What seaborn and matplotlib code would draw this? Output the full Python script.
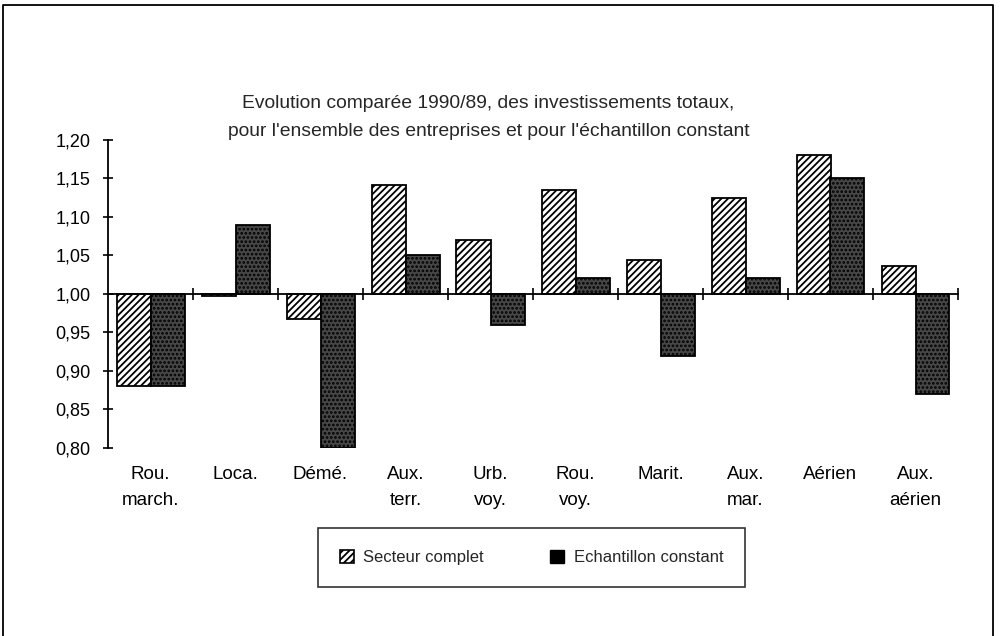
import pandas as pd
import matplotlib.pyplot as plt
import seaborn as sns
from matplotlib.patches import Patch
from matplotlib.lines import Line2D
from matplotlib.ticker import FixedLocator, FuncFormatter

# values (index 1989 = 1,00)
categories = ['Rou.\nmarch.', 'Loca.', 'Démé.', 'Aux.\nterr.', 'Urb.\nvoy.',
              'Rou.\nvoy.', 'Marit.', 'Aux.\nmar.', 'Aérien', 'Aux.\naérien']
secteur_complet = [0.88, 0.998, 0.968, 1.141, 1.07, 1.135, 1.044, 1.125, 1.18, 1.036]
echantillon_constant = [0.88, 1.09, 0.80, 1.05, 0.96, 1.021, 0.92, 1.021, 1.15, 0.87]
series = ['Secteur complet', 'Echantillon constant']
base = 1.0
y_ticks = [0.80, 0.85, 0.90, 0.95, 1.00, 1.05, 1.10, 1.15, 1.20]

rows = []
for cat, a, b in zip(categories, secteur_complet, echantillon_constant):
    rows.append({'Categorie': cat, 'Serie': series[0], 'Ecart': a - base})
    rows.append({'Categorie': cat, 'Serie': series[1], 'Ecart': b - base})
df = pd.DataFrame(rows)

sns.set_style('white')
plt.rcParams['font.family'] = ['Liberation Sans', 'DejaVu Sans']
plt.rcParams['hatch.linewidth'] = 1.3

fig = plt.figure(figsize=(10, 6.36), dpi=100)
ax = fig.add_axes([0.108, 0.2956, 0.85, 0.4843])

sns.barplot(data=df, x='Categorie', y='Ecart', hue='Serie', hue_order=series,
            order=categories, width=0.8, legend=False, ax=ax)

for bar in ax.containers[0]:
    bar.set_facecolor('white')
    bar.set_edgecolor('black')
    bar.set_hatch('/////')
    bar.set_linewidth(1.3)
for bar in ax.containers[1]:
    bar.set_facecolor('#474747')
    bar.set_edgecolor('black')
    bar.set_hatch('....')
    bar.set_linewidth(1.3)

ax.set_xlim(-0.5, len(categories) - 0.5)
ax.set_ylim(y_ticks[0] - base, y_ticks[-1] - base)
ax.set_xlabel('')
ax.set_ylabel('')

# y axis with comma decimals
ax.yaxis.set_major_locator(FixedLocator([t - base for t in y_ticks]))
ax.yaxis.set_major_formatter(FuncFormatter(lambda y, _: f'{y + base:.2f}'.replace('.', ',')))
ax.tick_params(axis='y', direction='inout', length=7, width=1.2, pad=9,
               labelsize=13, colors='black', left=True)

# zero line with category separators
ax.spines['top'].set_position(('data', 0))
ax.spines['bottom'].set_visible(False)
ax.spines['right'].set_visible(False)
for side in ['top', 'left']:
    ax.spines[side].set_color('black')
    ax.spines[side].set_linewidth(1.3)
ax.xaxis.set_minor_locator(FixedLocator([i + 0.5 for i in range(len(categories))]))
ax.tick_params(axis='x', which='minor', top=True, bottom=False, direction='inout',
               length=8, width=1.2, color='black')
ax.tick_params(axis='x', which='major', top=False, bottom=True, length=0,
               pad=13, labelsize=13.5, colors='black')
for lab in ax.get_xticklabels():
    lab.set_linespacing(1.65)
    lab.set_verticalalignment('top')

fig.text(0.488, 1 - 104 / 636, 'Evolution comparée 1990/89, des investissements totaux,',
         ha='center', va='center', fontsize=13.9)
fig.text(0.489, 1 - 132 / 636, "pour l'ensemble des entreprises et pour l'échantillon constant",
         ha='center', va='center', fontsize=13.9)

handles = [Patch(facecolor='white', edgecolor='black', hatch='/////', linewidth=1.2),
           Patch(facecolor='black', edgecolor='black')]
leg = fig.legend(handles, series, loc='center', bbox_to_anchor=(0.5315, 1 - 557.5 / 636),
                 ncol=2, fontsize=12, frameon=True, fancybox=False, edgecolor='black',
                 borderpad=1.3, handlelength=0.85, handleheight=0.85, handletextpad=0.55,
                 columnspacing=4.0, borderaxespad=0)
leg.get_frame().set_linewidth(1.2)

# outer frame of the page
frame_x = [0.003, 0.003, 0.993, 0.993]
frame_y = [-0.01, 1 - 5 / 636, 1 - 5 / 636, -0.01]
fig.add_artist(Line2D(frame_x, frame_y, transform=fig.transFigure, color='black', linewidth=1.3))

fig.savefig('out.png', dpi=100)
